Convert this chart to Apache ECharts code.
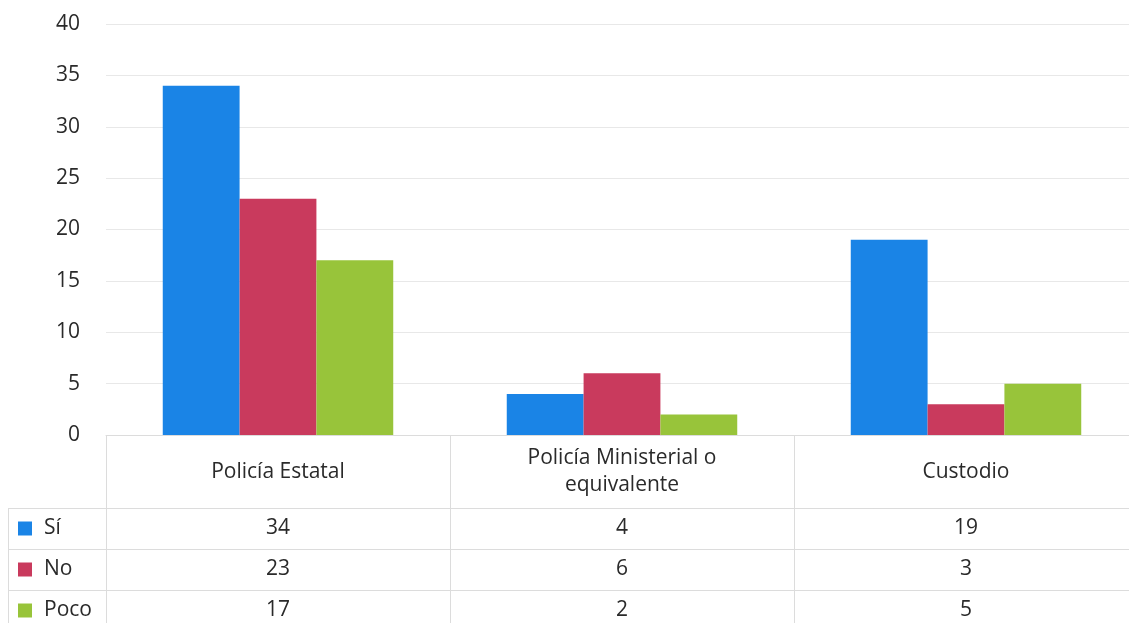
<!DOCTYPE html>
<html>
<head>
<meta charset="utf-8">
<script src="https://cdn.jsdelivr.net/npm/echarts@6/dist/echarts.min.js"></script>
<style>
html, body { margin: 0; padding: 0; background: #fff; }
#main { width: 1129px; height: 623px; }
</style>
</head>
<body>
<div id="main"></div>
<script>
var categories = ['Policía Estatal', 'Policía Ministerial o\nequivalente', 'Custodio'];
var seriesNames = ['Sí', 'No', 'Poco'];
var siValues = [34, 4, 19];
var noValues = [23, 6, 3];
var pocoValues = [17, 2, 5];
var yTicks = { min: 0, max: 40, step: 5 };

var colors = ['#1a84e6', '#c93a5d', '#98c43a'];
var font = 'Open Sans';
var textColor = '#2a2a2a';
var lineColor = '#dcdcdc';

var rows = [siValues, noValues, pocoValues];

// cells of the data table: [category index, row index, value]
var cells = [];
rows.forEach(function (row, r) {
  row.forEach(function (v, c) {
    cells.push([c, r, v]);
  });
});

// coloured key squares for the row labels
var rich = { t: { fontFamily: font, fontSize: 21, color: textColor, padding: [0, 0, 0, 12] } };
colors.forEach(function (c, i) {
  rich['k' + i] = { width: 14, height: 14, backgroundColor: c };
});

var chart = echarts.init(document.getElementById('main'));

var rowAxis = function (idx, withLabels) {
  return {
    type: 'category',
    gridIndex: idx,
    data: seriesNames,
    inverse: true,
    axisLine: { show: false },
    axisTick: { show: false },
    axisLabel: {
      show: withLabels,
      inside: true,
      margin: 10,
      align: 'left',
      rich: rich,
      formatter: function (v, i) { return '{k' + i + '|}{t|' + v + '}'; }
    },
    splitLine: { show: true, lineStyle: { color: lineColor } }
  };
};

chart.setOption({
  animation: false,
  color: colors,
  textStyle: { fontFamily: font },
  grid: [
    { left: 106, right: -9, top: 24, height: 411, outerBoundsMode: 'none' },
    { left: 106, right: -9, top: 435, height: 73, outerBoundsMode: 'none' },
    { left: 8, width: 98, top: 508, height: 123, outerBoundsMode: 'none' },
    { left: 106, right: -9, top: 508, height: 123, outerBoundsMode: 'none' }
  ],
  xAxis: [
    {
      type: 'category',
      gridIndex: 0,
      data: categories,
      axisLine: { lineStyle: { color: lineColor } },
      axisTick: { show: false },
      axisLabel: { show: false }
    },
    {
      type: 'category',
      gridIndex: 1,
      data: categories,
      axisLine: { show: true, lineStyle: { color: lineColor } },
      axisTick: { show: false },
      splitLine: { show: true, lineStyle: { color: lineColor } },
      axisLabel: {
        interval: 0,
        margin: -36,
        align: 'center',
        verticalAlign: 'middle',
        rich: {
          c: { fontFamily: font, fontSize: 21, lineHeight: 27, color: textColor, align: 'center', width: 320 }
        },
        formatter: function (v) {
          return v.split('\n').map(function (s) { return '{c|' + s + '}'; }).join('\n');
        }
      }
    },
    {
      type: 'category',
      gridIndex: 2,
      data: [''],
      axisLine: { show: false },
      axisTick: { show: false },
      axisLabel: { show: false },
      splitLine: { show: true, lineStyle: { color: lineColor } }
    },
    {
      type: 'category',
      gridIndex: 3,
      data: categories,
      axisLine: { show: false },
      axisTick: { show: false },
      axisLabel: { show: false },
      splitLine: { show: true, lineStyle: { color: lineColor } }
    }
  ],
  yAxis: [
    {
      type: 'value',
      gridIndex: 0,
      min: yTicks.min,
      max: yTicks.max,
      interval: yTicks.step,
      axisLine: { show: false },
      axisTick: { show: false },
      axisLabel: { fontFamily: font, fontSize: 21, color: textColor, margin: 26 },
      splitLine: { lineStyle: { color: '#e8e8e8' } }
    },
    { type: 'value', gridIndex: 1, show: false },
    rowAxis(2, true),
    rowAxis(3, false)
  ],
  series: [
    { name: seriesNames[0], type: 'bar', data: siValues, barGap: '0%', barCategoryGap: '33%' },
    { name: seriesNames[1], type: 'bar', data: noValues, barGap: '0%', barCategoryGap: '33%' },
    { name: seriesNames[2], type: 'bar', data: pocoValues, barGap: '0%', barCategoryGap: '33%' },
    {
      name: 'tabla',
      type: 'scatter',
      xAxisIndex: 3,
      yAxisIndex: 3,
      data: cells,
      symbolSize: 0,
      silent: true,
      itemStyle: { opacity: 1 },
      label: {
        show: true,
        position: 'inside',
        fontFamily: font,
        fontSize: 21,
        color: textColor,
        textBorderWidth: 0,
        formatter: function (p) { return p.value[2]; }
      }
    }
  ]
});
</script>
</body>
</html>
